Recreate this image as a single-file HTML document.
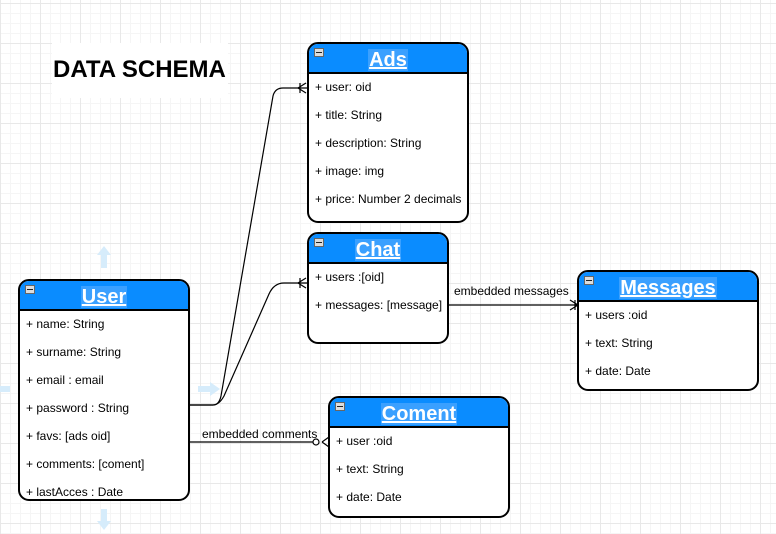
<!DOCTYPE html>
<html><head><meta charset="utf-8"><style>
html,body{margin:0;padding:0;}
body{width:776px;height:534px;position:relative;overflow:hidden;font-family:"Liberation Sans",sans-serif;
background-color:#fff;
background-image:
linear-gradient(#e8e8e8 1px,transparent 1px),linear-gradient(90deg,#e8e8e8 1px,transparent 1px),
linear-gradient(#f5f5f5 1px,transparent 1px),linear-gradient(90deg,#f5f5f5 1px,transparent 1px);
background-size:40px 40px,40px 40px,10px 10px,10px 10px;background-position:0 3px,0 0,0 3px,0 0;}
.box{position:absolute;border:2px solid #000;border-radius:11px;background:#fff;box-sizing:border-box;overflow:hidden;}
.hd{height:30px;background:#0a8cff;border-bottom:2px solid #000;position:relative;text-align:center;box-sizing:border-box;}
.hd span{display:inline-block;color:#fff;font-weight:bold;font-size:20px;line-height:22px;margin-top:5px;text-decoration:underline;background:#3aa0ff;padding:0 1px;}
.hd i{position:absolute;left:5px;top:4px;width:8px;height:7px;background:#ddd;border:1px solid #666;}
.hd i:after{content:"";position:absolute;left:1px;right:1px;top:3px;height:1px;background:#222;}
.r{font-size:12px;height:28px;line-height:26px;padding-left:6px;color:#000;white-space:nowrap;}
.lbl{position:absolute;font-size:12px;color:#000;}
</style></head><body>
<div style="position:absolute;left:52px;top:43px;width:176px;height:55px;background:#fff;"></div>
<div style="position:absolute;left:53px;top:56px;font-weight:bold;font-size:24px;">DATA SCHEMA</div>

<svg width="776" height="534" style="position:absolute;left:0;top:0" fill="none" stroke="#000" stroke-width="1.2">
<g fill="#d6ecfb" stroke="none">
<polygon points="104,246 97,255 101,255 101,268 107,268 107,255 111,255"/>
<polygon points="104,530 97,521 101,521 101,509 107,509 107,521 111,521"/>
<polygon points="220,389 210,382 210,386 198,386 198,392 210,392 210,396"/>
<rect x="0" y="386" width="10" height="6"/>
</g>
<path d="M189,405 H213 Q219,405 221,396 L273,96 Q275,88 283,88 H308"/>
<path d="M189,405 H213 Q219,405 224,396 L269,294 Q274,283 284,283 H308"/>
<path d="M300,83 V93 M298,88 L306,83 M298,88 L306,93"/>
<path d="M300,278 V288 M298,283 L306,278 M298,283 L306,288"/>
<path d="M448,305 H578 M570,300 L578,305 L570,310 M575,300 V310"/>
<path d="M189,442 H314 M322,442 L329,437 M322,442 L329,447"/>
<circle cx="316" cy="442" r="3" fill="#fff"/>
</svg>
<div class="lbl" style="left:454px;top:284px;">embedded messages</div>
<div class="lbl" style="left:202px;top:427px;">embedded comments</div>

<div class="box" style="left:307px;top:42px;width:162px;height:181px;"><div class="hd"><i></i><span>Ads</span></div>
<div class="r">+ user: oid</div><div class="r">+ title: String</div><div class="r">+ description: String</div><div class="r">+ image: img</div><div class="r">+ price: Number 2 decimals</div></div>

<div class="box" style="left:307px;top:232px;width:142px;height:112px;"><div class="hd"><i></i><span>Chat</span></div>
<div class="r">+ users :[oid]</div><div class="r">+ messages: [message]</div></div>

<div class="box" style="left:18px;top:279px;width:172px;height:222px;"><div class="hd"><i></i><span>User</span></div>
<div class="r">+ name: String</div><div class="r">+ surname: String</div><div class="r">+ email : email</div><div class="r">+ password : String</div><div class="r">+ favs: [ads oid]</div><div class="r">+ comments: [coment]</div><div class="r">+ lastAcces : Date</div></div>

<div class="box" style="left:577px;top:270px;width:182px;height:121px;"><div class="hd"><i></i><span>Messages</span></div>
<div class="r">+ users :oid</div><div class="r">+ text: String</div><div class="r">+ date: Date</div></div>

<div class="box" style="left:328px;top:396px;width:182px;height:122px;"><div class="hd"><i></i><span>Coment</span></div>
<div class="r">+ user :oid</div><div class="r">+ text: String</div><div class="r">+ date: Date</div></div>
</body></html>
